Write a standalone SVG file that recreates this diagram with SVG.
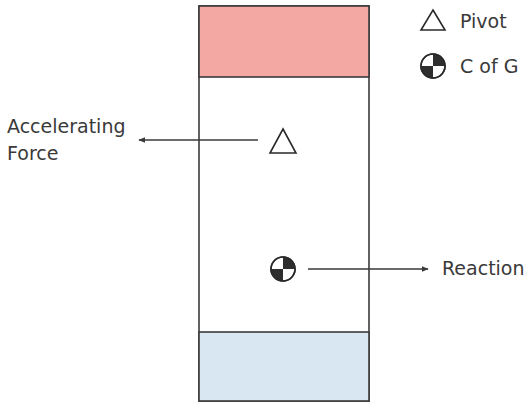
<svg xmlns="http://www.w3.org/2000/svg" xmlns:xlink="http://www.w3.org/1999/xlink" width="525" height="406" viewBox="0 0 525 406">
<style>
.box{fill:none;stroke:#3a3a3a;stroke-width:1.6}
.red{fill:#f4a8a4;stroke:#3a3a3a;stroke-width:1.6}
.blue{fill:#d9e7f2;stroke:#3a3a3a;stroke-width:1.6}
.sym{fill:#fff;stroke:#2a2a2a;stroke-width:1.6}
.q{fill:#2e2e2e}
.lbl{font-family:"DejaVu Sans",sans-serif;font-size:19px;fill:#3a3a3a}
.conn{stroke:#3a3a3a;stroke-width:1.6;fill:none}
</style>
<defs>
<marker id="ah" viewBox="0 0 10 10" refX="9" refY="5" markerWidth="7" markerHeight="7" markerUnits="userSpaceOnUse" orient="auto">
<path d="M0,1 L10,5 L0,9 Z" fill="#3a3a3a"/>
</marker>
<g id="cg">
<circle r="12" class="sym"/>
<path d="M0,0 L0,-12 A12,12 0 0 1 12,0 Z" class="q"/>
<path d="M0,0 L0,12 A12,12 0 0 1 -12,0 Z" class="q"/>
<circle r="12" fill="none" stroke="#2a2a2a" stroke-width="1.6"/>
</g>
<polygon id="tri" points="0,-12 13,12 -13,12" class="sym"/>
</defs>
<rect width="525" height="406" fill="#fff"/>
<g id="body">
<rect x="199" y="6" width="170" height="395" class="box"/>
</g>
<g id="top-band">
<rect x="199" y="6" width="170" height="71" class="red"/>
</g>
<g id="bottom-band">
<rect x="199" y="332" width="170" height="69" class="blue"/>
</g>
<g id="pivot">
<use xlink:href="#tri" x="283" y="141"/>
</g>
<g id="cofg">
<use xlink:href="#cg" x="283" y="269"/>
</g>
<g id="legend-pivot">
<polygon points="433,10 445,30 421,30" class="sym"/>
<text x="460" y="28" class="lbl">Pivot</text>
</g>
<g id="legend-cg">
<use xlink:href="#cg" x="433" y="66"/>
<text x="460" y="73" class="lbl">C of G</text>
</g>
<g id="label-accel">
<text x="7" y="133" class="lbl">Accelerating</text>
<text x="7" y="160" class="lbl">Force</text>
</g>
<g id="label-reaction">
<text x="442" y="275" class="lbl">Reaction</text>
</g>
<g id="connectors">
<line x1="258" y1="140" x2="139" y2="140" class="conn" marker-end="url(#ah)"/>
<line x1="308" y1="269" x2="428" y2="269" class="conn" marker-end="url(#ah)"/>
</g>
</svg>
